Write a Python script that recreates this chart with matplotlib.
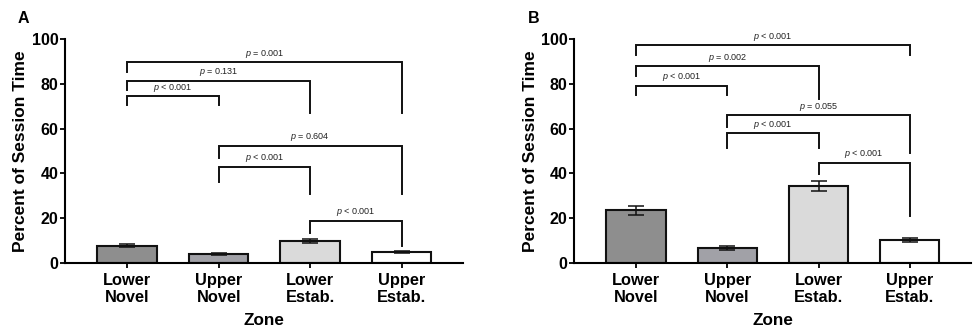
import numpy as np
import matplotlib
matplotlib.use("Agg")
import matplotlib.pyplot as plt

plt.rcParams['font.family'] = ['Liberation Sans', 'DejaVu Sans']
plt.rcParams['mathtext.fontset'] = 'custom'
plt.rcParams['mathtext.it'] = 'Liberation Sans:italic'
plt.rcParams['mathtext.rm'] = 'Liberation Sans'

zones = ['Lower\nNovel', 'Upper\nNovel', 'Lower\nEstab.', 'Upper\nEstab.']
colors = ['#8e8e8e', '#a1a1a7', '#dadada', '#ffffff']

# panel A
means_a = [7.8, 4.0, 9.8, 5.0]
sem_a = [0.7, 0.5, 0.7, 0.5]
# (left bar, right bar, bracket height, left leg end, right leg end, label)
brackets_a = [
    (0, 3, 89.7, 85.4, 66.8, '= 0.001'),
    (0, 2, 81.4, 77.0, 66.8, '= 0.131'),
    (0, 1, 74.6, 70.4, 70.4, '< 0.001'),
    (1, 3, 52.4, 46.7, 30.8, '= 0.604'),
    (1, 2, 43.0, 36.3, 30.8, '< 0.001'),
    (2, 3, 18.9, 13.5, 7.6, '< 0.001'),
]

# panel B
means_b = [23.5, 6.9, 34.4, 10.2]
sem_b = [2.1, 0.9, 2.4, 1.0]
brackets_b = [
    (0, 3, 97.3, 93.0, 93.0, '< 0.001'),
    (0, 2, 88.0, 83.3, 73.2, '= 0.002'),
    (0, 1, 79.2, 75.0, 75.0, '< 0.001'),
    (1, 3, 66.1, 60.6, 49.2, '= 0.055'),
    (1, 2, 57.9, 51.2, 51.2, '< 0.001'),
    (2, 3, 44.8, 39.6, 20.9, '< 0.001'),
]

fig = plt.figure(figsize=(9.77, 3.29), dpi=100)
ax_a = fig.add_axes([0.0665, 0.2006, 0.4074, 0.681])
ax_b = fig.add_axes([0.5875, 0.2006, 0.4063, 0.681])


def draw_panel(ax, means, sems, brackets):
    x = np.arange(len(zones))
    ax.bar(x, means, width=0.65, color=colors, edgecolor='#111111',
           linewidth=1.5, zorder=2)
    ax.errorbar(x, means, yerr=sems, fmt='none', ecolor='#111111',
                elinewidth=1.1, capsize=5.5, capthick=1.1, zorder=3)
    for i, j, yb, yl, yr, lab in brackets:
        ax.plot([i, i, j, j], [yl, yb, yb, yr], color='#111111', lw=1.4,
                solid_joinstyle='miter', zorder=2)
        ax.text((i + j) / 2, yb + 1.0, r'$p$ ' + lab, ha='center',
                va='bottom', fontsize=6.5, color='#222222')
    ax.set_xlim(-0.68, 3.67)
    ax.set_ylim(0, 100)
    ax.set_yticks([0, 20, 40, 60, 80, 100])
    ax.set_xticks(x)
    ax.set_xticklabels(zones, fontsize=11.8, fontweight='bold',
                       linespacing=1.12)
    for t in ax.get_yticklabels():
        t.set_fontsize(11.5)
        t.set_fontweight('bold')
    ax.spines['top'].set_visible(False)
    ax.spines['right'].set_visible(False)
    ax.spines['left'].set_linewidth(1.5)
    ax.spines['bottom'].set_linewidth(1.5)
    ax.tick_params(axis='y', direction='out', length=3.5, width=1.3, pad=1)
    ax.tick_params(axis='x', direction='out', length=3.5, width=1.3, pad=4)
    ax.set_xlabel('Zone', fontsize=12.3, fontweight='bold', labelpad=6)
    ax.set_ylabel('Percent of Session Time', fontsize=12.5,
                  fontweight='bold', labelpad=2.5)


draw_panel(ax_a, means_a, sem_a, brackets_a)
draw_panel(ax_b, means_b, sem_b, brackets_b)

fig.text(0.018, 0.93, 'A', fontsize=11.5, fontweight='bold')
fig.text(0.54, 0.93, 'B', fontsize=11.5, fontweight='bold')

fig.savefig('out.png', dpi=100)
